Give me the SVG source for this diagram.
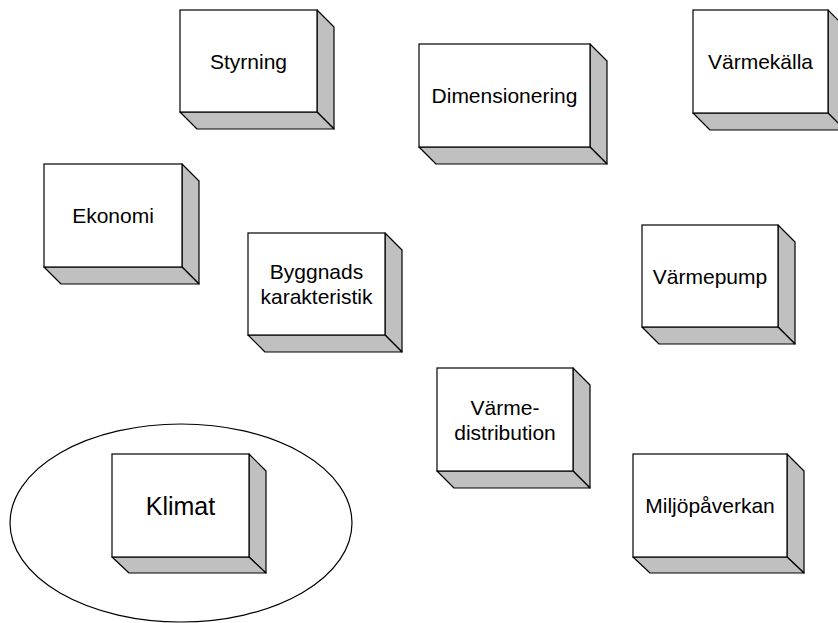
<svg xmlns="http://www.w3.org/2000/svg" width="838" height="623" viewBox="0 0 838 623">
<style>
.f{fill:#fff;stroke:#000;stroke-width:1.2}
.s{fill:#c0c0c0;stroke:#000;stroke-width:1.2;stroke-linejoin:round}
text{font-family:"Liberation Sans",Arial,sans-serif;font-size:21px;fill:#000;text-anchor:middle}
.big{font-size:25px}
</style>
<rect width="838" height="623" fill="#fff"/>
<g id="klimat-area">
<ellipse cx="181" cy="523" rx="171" ry="99" fill="none" stroke="#000" stroke-width="1.2"/>
</g>
<g id="styrning">
<polygon class="s" points="317,10 334,27 334,129 317,112"/>
<polygon class="s" points="180,112 317,112 334,129 197,129"/>
<rect class="f" x="180" y="10" width="137" height="102"/>
<text x="248.5" y="68.5">Styrning</text>
</g>
<g id="dimensionering">
<polygon class="s" points="590,44 607,61 607,164 590,147"/>
<polygon class="s" points="419,147 590,147 607,164 436,164"/>
<rect class="f" x="419" y="44" width="171" height="103"/>
<text x="504.5" y="103">Dimensionering</text>
</g>
<g id="varmekalla">
<polygon class="s" points="828,10 845,27 845,130 828,113"/>
<polygon class="s" points="693,113 828,113 845,130 710,130"/>
<rect class="f" x="693" y="10" width="135" height="103"/>
<text x="760.5" y="69">Värmekälla</text>
</g>
<g id="ekonomi">
<polygon class="s" points="182,164 199,181 199,284 182,267"/>
<polygon class="s" points="44,267 182,267 199,284 61,284"/>
<rect class="f" x="44" y="164" width="138" height="103"/>
<text x="113" y="223">Ekonomi</text>
</g>
<g id="byggnads">
<polygon class="s" points="385,233 402,250 402,352 385,335"/>
<polygon class="s" points="248,335 385,335 402,352 265,352"/>
<rect class="f" x="248" y="233" width="137" height="102"/>
<text x="316.5" y="279">Byggnads</text>
<text x="316.5" y="304">karakteristik</text>
</g>
<g id="varmepump">
<polygon class="s" points="778,225 795,242 795,344 778,327"/>
<polygon class="s" points="642,327 778,327 795,344 659,344"/>
<rect class="f" x="642" y="225" width="136" height="102"/>
<text x="710" y="283.5">Värmepump</text>
</g>
<g id="varmedistribution">
<polygon class="s" points="573,368 590,385 590,488 573,471"/>
<polygon class="s" points="437,471 573,471 590,488 454,488"/>
<rect class="f" x="437" y="368" width="136" height="103"/>
<text x="505" y="415">Värme-</text>
<text x="505" y="440">distribution</text>
</g>
<g id="klimat">
<polygon class="s" points="249,454 266,471 266,573 249,557"/>
<polygon class="s" points="112,557 249,557 266,573 129,573"/>
<rect class="f" x="112" y="454" width="137" height="103"/>
<text class="big" x="180.5" y="514.5">Klimat</text>
</g>
<g id="miljopaverkan">
<polygon class="s" points="787,454 804,471 804,573 787,557"/>
<polygon class="s" points="633,557 787,557 804,573 650,573"/>
<rect class="f" x="633" y="454" width="154" height="103"/>
<text x="710" y="513">Miljöpåverkan</text>
</g>
<g id="connectors"></g>
</svg>
